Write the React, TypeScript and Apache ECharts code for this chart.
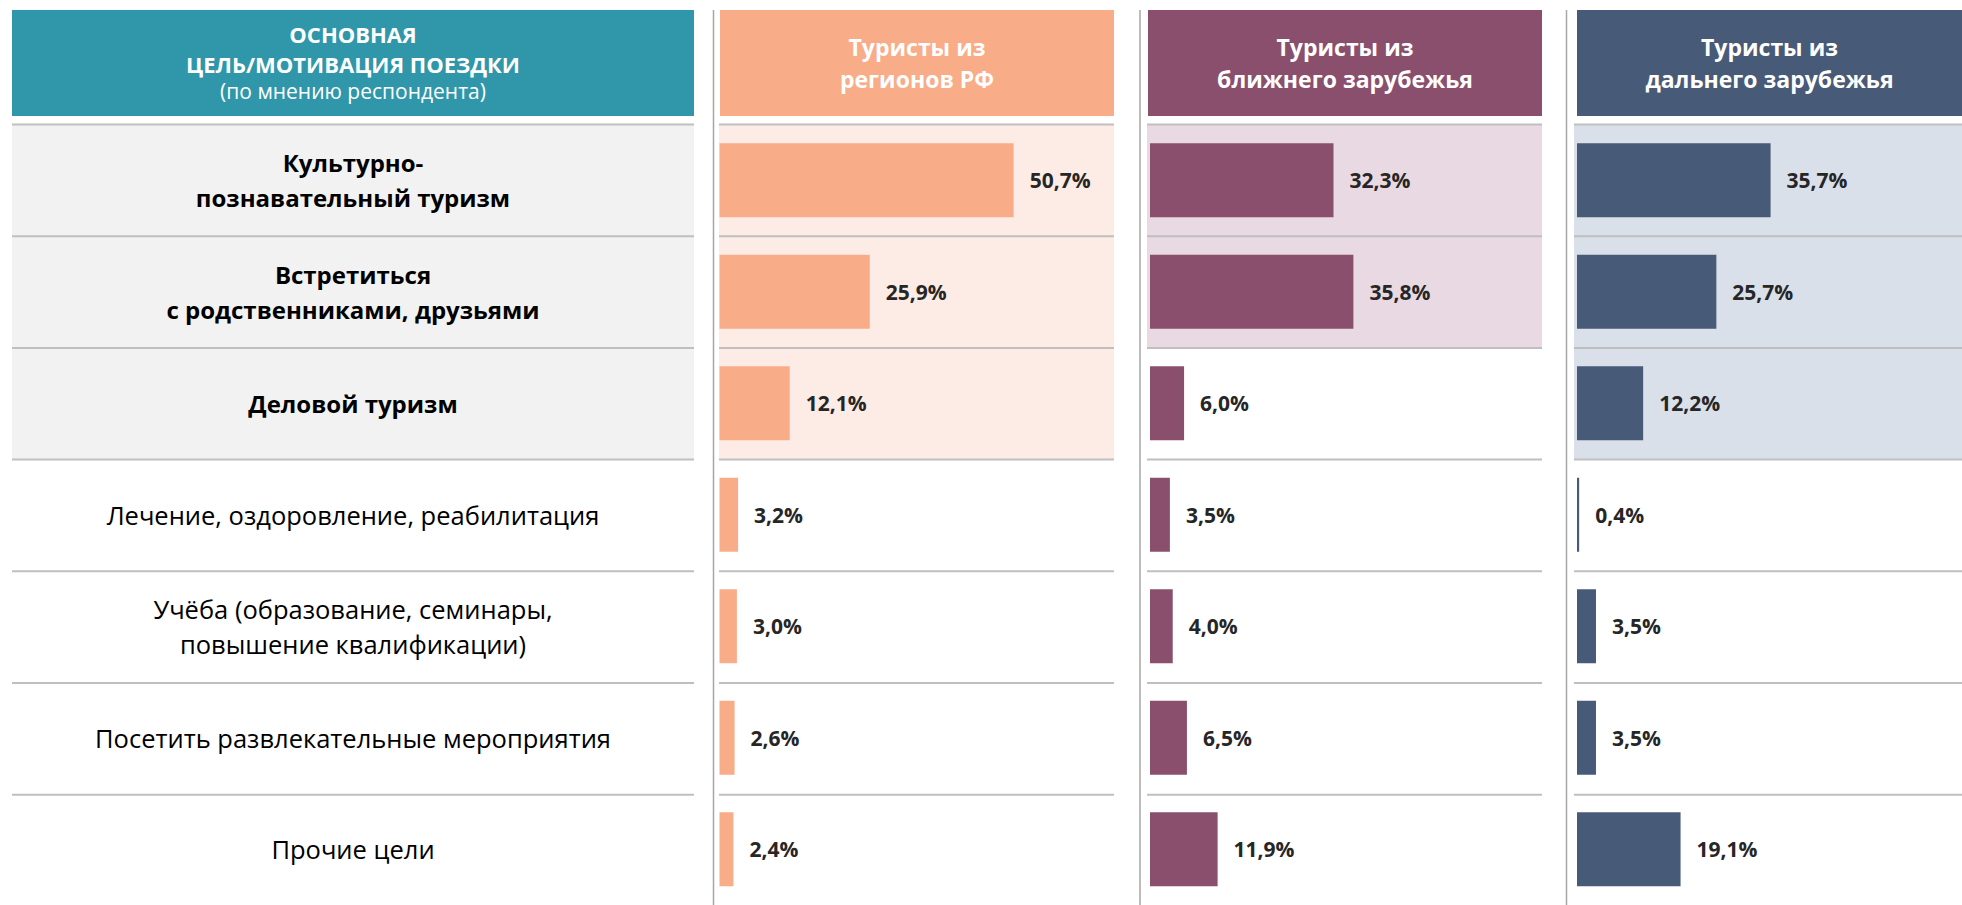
import React, { useEffect, useRef } from 'react';
import * as echarts from 'echarts';

// ---------- data ----------
const categories: string[] = [
  'Культурно-\nпознавательный туризм',
  'Встретиться\nс родственниками, друзьями',
  'Деловой туризм',
  'Лечение, оздоровление, реабилитация',
  'Учёба (образование, семинары,\nповышение квалификации)',
  'Посетить развлекательные мероприятия',
  'Прочие цели',
];
const boldCategoryCount = 3;

const russianRegions: number[] = [50.7, 25.9, 12.1, 3.2, 3.0, 2.6, 2.4];
const nearAbroad: number[] = [32.3, 35.8, 6.0, 3.5, 4.0, 6.5, 11.9];
const farAbroad: number[] = [35.7, 25.7, 12.2, 0.4, 3.5, 3.5, 19.1];

const seriesNames: string[] = [
  'Туристы из регионов РФ',
  'Туристы из ближнего зарубежья',
  'Туристы из дальнего зарубежья',
];
const headerTitles: string[] = [
  'Туристы из\nрегионов РФ',
  'Туристы из\nближнего зарубежья',
  'Туристы из\nдальнего зарубежья',
];
const leftHeaderLines: string[] = ['ОСНОВНАЯ', 'ЦЕЛЬ/МОТИВАЦИЯ ПОЕЗДКИ', '(по мнению респондента)'];

// number of top rows with a tinted background: left column, then each panel
const leftHighlightRows = 3;
const panelHighlightRows: number[] = [3, 2, 3];

// ---------- layout / style ----------
const FONT = "'Open Sans', sans-serif";
const W = 1962;
const H = 905;
const ROW_TOP = 124.5;
const ROW_H = 111.7;
const HEADER_TOP = 10;
const HEADER_H = 106;
const LEFT_X0 = 12;
const LEFT_X1 = 694;

const panels = [
  { headerX: 720, bgX: 719, gridX: 719.5, right: 1114, max: 68, color: '#F9AC88', bg: '#FDECE5' },
  { headerX: 1148, bgX: 1147, gridX: 1150, right: 1542, max: 69, color: '#8A4F6D', bg: '#E9D9E3' },
  { headerX: 1577, bgX: 1574, gridX: 1577, right: 1962, max: 71, color: '#475A78', bg: '#DAE0E9' },
];
const separators = [713.5, 1140, 1566.5];

const fmt = (v: number) => v.toFixed(1).replace('.', ',') + '%';

export default function App() {
  const ref = useRef<HTMLDivElement>(null);

  useEffect(() => {
    if (!ref.current) return;
    const chart = echarts.init(ref.current, undefined, { renderer: 'svg' });
    const seriesData = [russianRegions, nearAbroad, farAbroad];
    const nRows = categories.length;

    const graphics: any[] = [];
    // left column background + header
    graphics.push({
      type: 'rect', z: -5, silent: true,
      shape: { x: LEFT_X0, y: ROW_TOP, width: LEFT_X1 - LEFT_X0, height: leftHighlightRows * ROW_H },
      style: { fill: '#F2F2F2' },
    });
    graphics.push({
      type: 'rect', z: -5, silent: true,
      shape: { x: LEFT_X0, y: HEADER_TOP, width: LEFT_X1 - LEFT_X0, height: HEADER_H },
      style: { fill: '#2F97A9' },
    });
    const leftCx = (LEFT_X0 + LEFT_X1) / 2;
    const leftHeaderY = [34, 64, 91];
    const leftHeaderSize = [22, 22, 21];
    leftHeaderLines.forEach((t, i) => {
      graphics.push({
        type: 'text', z: 5, silent: true, x: leftCx, y: leftHeaderY[i],
        style: {
          text: t, fill: '#fff', fontFamily: FONT, fontSize: leftHeaderSize[i],
          fontWeight: i < 2 ? 'bold' : 'normal', align: 'center', verticalAlign: 'middle',
        },
      });
    });
    for (let i = 0; i < nRows; i++) {
      graphics.push({
        type: 'line', z: -4, silent: true,
        shape: { x1: LEFT_X0, y1: ROW_TOP + i * ROW_H, x2: LEFT_X1, y2: ROW_TOP + i * ROW_H },
        style: { stroke: '#BFBFBF', lineWidth: 2 },
      });
    }
    panels.forEach((p, pi) => {
      graphics.push({
        type: 'rect', z: -5, silent: true,
        shape: { x: p.bgX, y: ROW_TOP, width: p.right - p.bgX, height: panelHighlightRows[pi] * ROW_H },
        style: { fill: p.bg },
      });
      graphics.push({
        type: 'rect', z: -5, silent: true,
        shape: { x: p.headerX, y: HEADER_TOP, width: p.right - p.headerX, height: HEADER_H },
        style: { fill: p.color },
      });
      graphics.push({
        type: 'text', z: 5, silent: true, x: (p.headerX + p.right) / 2, y: HEADER_TOP + HEADER_H / 2,
        style: {
          text: headerTitles[pi], fill: '#fff', fontFamily: FONT, fontSize: 23, fontWeight: 'bold',
          align: 'center', verticalAlign: 'middle', lineHeight: 32,
        },
      });
      for (let i = 0; i < nRows; i++) {
        graphics.push({
          type: 'line', z: -4, silent: true,
          shape: { x1: p.bgX, y1: ROW_TOP + i * ROW_H, x2: p.right, y2: ROW_TOP + i * ROW_H },
          style: { stroke: '#BFBFBF', lineWidth: 2 },
        });
      }
    });
    separators.forEach((x) => {
      graphics.push({
        type: 'line', z: -4, silent: true,
        shape: { x1: x, y1: HEADER_TOP, x2: x, y2: H },
        style: { stroke: '#A6A6A6', lineWidth: 1.5 },
      });
    });

    const option: any = {
      animation: false,
      backgroundColor: '#ffffff',
      graphic: { elements: graphics },
      grid: panels.map((p) => ({
        left: p.gridX, top: ROW_TOP, width: p.right - p.gridX, height: ROW_H * nRows, containLabel: false,
      })),
      xAxis: panels.map((p, i) => ({
        type: 'value', gridIndex: i, min: 0, max: p.max, show: false,
      })),
      yAxis: panels.map((p, i) => ({
        type: 'category', gridIndex: i, data: categories, inverse: true,
        axisLine: { show: false }, axisTick: { show: false }, splitLine: { show: false },
        axisLabel: i === 0
          ? {
              show: true, interval: 0, align: 'center', margin: p.gridX - leftCx,
              formatter: (v: string, idx: number) => {
                const k = idx < boldCategoryCount ? 'b' : 'r';
                return v.split('\n').map((l) => `{${k}|${l}}`).join('\n');
              },
              rich: {
                b: { fontFamily: FONT, fontSize: 24, fontWeight: 'bold', color: '#000', lineHeight: 35 },
                r: { fontFamily: FONT, fontSize: 25.5, fontWeight: 'normal', color: '#000', lineHeight: 35 },
              },
            }
          : { show: false },
      })),
      series: panels.map((p, i) => ({
        type: 'bar', name: seriesNames[i], xAxisIndex: i, yAxisIndex: i,
        data: seriesData[i], barWidth: 74,
        itemStyle: { color: p.color },
        label: {
          show: true, position: 'right', distance: 16,
          formatter: (d: any) => fmt(d.value),
          fontFamily: FONT, fontSize: 21, fontWeight: 'bold', color: '#262626',
        },
      })),
    };
    chart.setOption(option);
    return () => chart.dispose();
  }, []);

  return (
    <div
      ref={ref}
      style={{ position: 'absolute', left: 0, top: 0, width: W, height: H, background: '#fff' }}
    />
  );
}
